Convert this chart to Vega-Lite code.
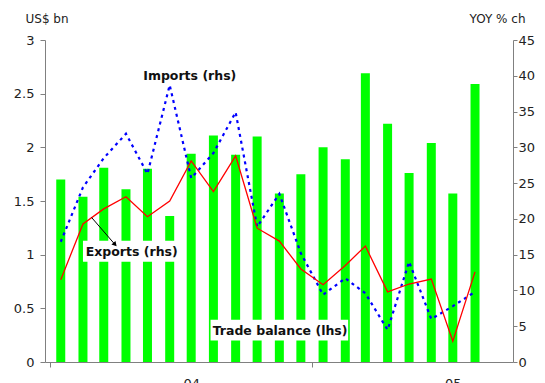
{
  "$schema": "https://vega.github.io/schema/vega-lite/v6.json",
  "width": 468,
  "height": 322,
  "autosize": {"type": "none"},
  "padding": {"left": 45, "top": 40, "right": 32, "bottom": 21},
  "background": "white",
  "config": {
    "view": {"stroke": null},
    "font": "DejaVu Sans",
    "axis": {
      "labelFont": "DejaVu Sans",
      "titleFont": "DejaVu Sans",
      "grid": false,
      "domainColor": "#808080",
      "tickColor": "#808080",
      "labelColor": "#222222",
      "labelFontSize": 13,
      "tickSize": 5,
      "labelOverlap": false,
      "titleFontWeight": "normal",
      "titleFontSize": 12,
      "titleColor": "#222222"
    }
  },
  "datasets": {
    "monthly": [
      {"month": "2004-01-16", "balance": 1.70, "exports": 11.5, "imports": 16.8},
      {"month": "2004-02-16", "balance": 1.54, "exports": 19.3, "imports": 24.4},
      {"month": "2004-03-16", "balance": 1.81, "exports": 21.4, "imports": 28.5},
      {"month": "2004-04-16", "balance": 1.61, "exports": 23.1, "imports": 31.9},
      {"month": "2004-05-16", "balance": 1.80, "exports": 20.3, "imports": 26.3},
      {"month": "2004-06-16", "balance": 1.36, "exports": 22.5, "imports": 38.7},
      {"month": "2004-07-16", "balance": 1.94, "exports": 28.1, "imports": 25.7},
      {"month": "2004-08-16", "balance": 2.11, "exports": 23.8, "imports": 29.2},
      {"month": "2004-09-16", "balance": 1.93, "exports": 28.8, "imports": 34.9},
      {"month": "2004-10-16", "balance": 2.10, "exports": 18.7, "imports": 18.9},
      {"month": "2004-11-16", "balance": 1.57, "exports": 16.9, "imports": 23.5},
      {"month": "2004-12-16", "balance": 1.75, "exports": 13.0, "imports": 15.2},
      {"month": "2005-01-16", "balance": 2.00, "exports": 10.8, "imports": 9.4},
      {"month": "2005-02-16", "balance": 1.89, "exports": 13.5, "imports": 11.7},
      {"month": "2005-03-16", "balance": 2.69, "exports": 16.2, "imports": 9.6},
      {"month": "2005-04-16", "balance": 2.22, "exports": 9.8, "imports": 4.5},
      {"month": "2005-05-16", "balance": 1.76, "exports": 10.9, "imports": 14.0},
      {"month": "2005-06-16", "balance": 2.04, "exports": 11.6, "imports": 6.0},
      {"month": "2005-07-16", "balance": 1.57, "exports": 2.9, "imports": 7.8},
      {"month": "2005-08-16", "balance": 2.59, "exports": 12.6, "imports": 9.8}
    ],
    "boxes": [
      {"from": "2004-02-16", "to": "2004-07-02", "low": 14.0, "high": 16.95},
      {"from": "2004-08-12", "to": "2005-02-20", "low": 3.0, "high": 5.9}
    ],
    "notes": [
      {"label": "Imports (rhs)", "date": "2004-07-14", "v": 40.0},
      {"label": "Exports (rhs)", "date": "2004-04-24", "v": 15.4},
      {"label": "Trade balance (lhs)", "date": "2004-11-17", "v": 4.4}
    ],
    "arrow": [
      {"from": "2004-02-28", "to": "2004-03-31", "start": 20.2, "end": 16.5}
    ]
  },
  "layer": [
    {
      "data": {"name": "monthly"},
      "mark": {"type": "bar", "color": "#00FF00", "size": 9},
      "encoding": {
        "x": {
          "field": "month",
          "type": "temporal",
          "scale": {
            "type": "utc",
            "domain": [
              {"year": 2004, "month": 1, "date": 1, "utc": true},
              {"year": 2005, "month": 10, "date": 1, "utc": true}
            ],
            "nice": false
          },
          "axis": {
            "title": null,
            "values": [
              {"year": 2004, "month": 1, "date": 1, "utc": true},
              {"year": 2004, "month": 7, "date": 16, "utc": true},
              {"year": 2005, "month": 1, "date": 1, "utc": true},
              {"year": 2005, "month": 7, "date": 16, "utc": true}
            ],
            "labelExpr": "utcmonth(datum.value) == 6 ? utcFormat(datum.value, '%y') : ''",
            "tickOpacity": {"condition": {"test": "utcmonth(datum.value) == 6", "value": 0}, "value": 1},
            "labelPadding": 10,
            "labelFlush": false,
            "labelOverlap": false
          }
        },
        "y": {
          "field": "balance",
          "type": "quantitative",
          "scale": {"domain": [0, 3], "nice": false},
          "axis": {
            "values": [0, 0.5, 1, 1.5, 2, 2.5, 3],
            "format": "~g",
            "title": "US$ bn",
            "titleAngle": 0,
            "titleAlign": "left",
            "titleBaseline": "middle",
            "titleX": -20,
            "titleY": -22,
            "labelPadding": 6
          }
        }
      }
    },
    {
      "layer": [
        {
          "data": {"name": "monthly"},
          "mark": {"type": "line", "color": "#0000FF", "strokeWidth": 2.2, "strokeDash": [3, 4]},
          "encoding": {
            "x": {"field": "month", "type": "temporal"},
            "y": {
              "field": "imports",
              "type": "quantitative",
              "scale": {"domain": [0, 45], "nice": false, "zero": true},
              "axis": {
                "orient": "right",
                "values": [0, 5, 10, 15, 20, 25, 30, 35, 40, 45],
                "tickCount": 10,
                "labelOverlap": false,
                "tickSize": 4,
                "title": "YOY % ch",
                "titleAngle": 0,
                "titleAlign": "right",
                "titleBaseline": "middle",
                "titleX": 12,
                "titleY": -22,
                "labelPadding": 1
              }
            }
          }
        },
        {
          "data": {"name": "boxes"},
          "mark": {"type": "rect", "fill": "white"},
          "encoding": {
            "x": {"field": "from", "type": "temporal"},
            "x2": {"field": "to"},
            "y": {"field": "low", "type": "quantitative"},
            "y2": {"field": "high"}
          }
        },
        {
          "data": {"name": "monthly"},
          "mark": {"type": "line", "color": "#FF0000", "strokeWidth": 1.3},
          "encoding": {
            "x": {"field": "month", "type": "temporal"},
            "y": {"field": "exports", "type": "quantitative"}
          }
        },
        {
          "data": {"name": "arrow"},
          "mark": {"type": "rule", "color": "black", "strokeWidth": 1},
          "encoding": {
            "x": {"field": "from", "type": "temporal"},
            "x2": {"field": "to"},
            "y": {"field": "start", "type": "quantitative"},
            "y2": {"field": "end"}
          }
        },
        {
          "data": {"name": "arrow"},
          "mark": {"type": "point", "shape": "triangle", "filled": true, "color": "black", "size": 30, "angle": 138, "opacity": 1},
          "encoding": {
            "x": {"field": "to", "type": "temporal"},
            "y": {"field": "end", "type": "quantitative"}
          }
        },
        {
          "data": {"name": "notes"},
          "mark": {"type": "text", "font": "DejaVu Sans", "fontSize": 12.5, "fontWeight": "bold", "color": "#111111", "align": "center", "baseline": "middle"},
          "encoding": {
            "x": {"field": "date", "type": "temporal"},
            "y": {"field": "v", "type": "quantitative"},
            "text": {"field": "label"}
          }
        }
      ]
    }
  ],
  "resolve": {"scale": {"y": "independent"}}
}
